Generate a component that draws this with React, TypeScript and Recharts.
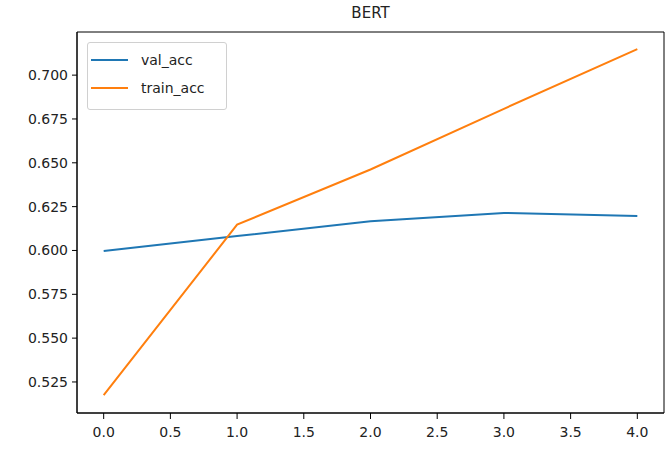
import React from 'react';
import { LineChart, Line, XAxis, YAxis, ReferenceArea } from 'recharts';

// epochs and accuracy values
const epochs = [0, 1, 2, 3, 4];
const valAcc = [0.5997, 0.6082, 0.6166, 0.6214, 0.6196];
const trainAcc = [0.5175, 0.6147, 0.6462, 0.6808, 0.7148];

const xTicks = [0, 0.5, 1, 1.5, 2, 2.5, 3, 3.5, 4];
const yTicks = [0.525, 0.55, 0.575, 0.6, 0.625, 0.65, 0.675, 0.7];

const X_DOMAIN: [number, number] = [-0.2, 4.2];
const Y_DOMAIN: [number, number] = [0.5073, 0.7246];

const BLUE = '#1f77b4';
const ORANGE = '#ff7f0e';
const FONT = '"DejaVu Sans", sans-serif';

const data = epochs.map((e, i) => ({ epoch: e, val_acc: valAcc[i], train_acc: trainAcc[i] }));

const legendItems = [
  { name: 'val_acc', color: BLUE },
  { name: 'train_acc', color: ORANGE },
];

// matplotlib-style legend box, drawn over the plot area
const LegendBox = () => (
  <div
    style={{
      position: 'absolute',
      left: 87,
      top: 42,
      width: 138,
      height: 66,
      border: '1px solid #d0d0d0',
      borderRadius: 3,
      background: 'rgba(255,255,255,0.8)',
      fontFamily: FONT,
      fontSize: 14,
      color: '#222',
    }}
  >
    {legendItems.map((item, i) => (
      <div key={item.name} style={{ position: 'absolute', left: 3, top: 8 + i * 28, display: 'flex', alignItems: 'center', height: 18 }}>
        <div style={{ width: 37, height: 2, background: item.color }} />
        <span style={{ marginLeft: 13 }}>{item.name}</span>
      </div>
    ))}
  </div>
);

const App: React.FC = () => {
  return (
    <div style={{ position: 'absolute', left: 0, top: 0, width: 670, height: 449, background: '#fff' }}>
      <div
        style={{
          position: 'absolute',
          top: 4,
          left: 77,
          width: 587,
          textAlign: 'center',
          fontFamily: FONT,
          fontSize: 15,
          color: '#222',
        }}
      >
        BERT
      </div>
      <LineChart width={670} height={449} data={data} margin={{ top: 32, right: 6, left: 0, bottom: 0 }}>
        <XAxis
          dataKey="epoch"
          type="number"
          domain={X_DOMAIN}
          ticks={xTicks}
          allowDataOverflow
          tickFormatter={(v: number) => v.toFixed(1)}
          height={36}
          tickSize={6}
          tickMargin={8}
          axisLine={{ stroke: '#000' }}
          tickLine={{ stroke: '#000' }}
          tick={{ fill: '#222', fontSize: 14, fontFamily: FONT }}
        />
        <YAxis
          type="number"
          domain={Y_DOMAIN}
          ticks={yTicks}
          allowDataOverflow
          tickFormatter={(v: number) => v.toFixed(3)}
          width={77}
          tickSize={5}
          tickMargin={4}
          axisLine={{ stroke: '#000' }}
          tickLine={{ stroke: '#000' }}
          tick={{ fill: '#222', fontSize: 14, fontFamily: FONT }}
        />
        <ReferenceArea
          x1={X_DOMAIN[0]}
          x2={X_DOMAIN[1]}
          y1={Y_DOMAIN[0]}
          y2={Y_DOMAIN[1]}
          fill="none"
          stroke="#000"
          strokeWidth={1}
        />
        <Line type="linear" dataKey="val_acc" stroke={BLUE} strokeWidth={2} dot={false} isAnimationActive={false} />
        <Line type="linear" dataKey="train_acc" stroke={ORANGE} strokeWidth={2} dot={false} isAnimationActive={false} />
      </LineChart>
      <LegendBox />
    </div>
  );
};

export default App;
